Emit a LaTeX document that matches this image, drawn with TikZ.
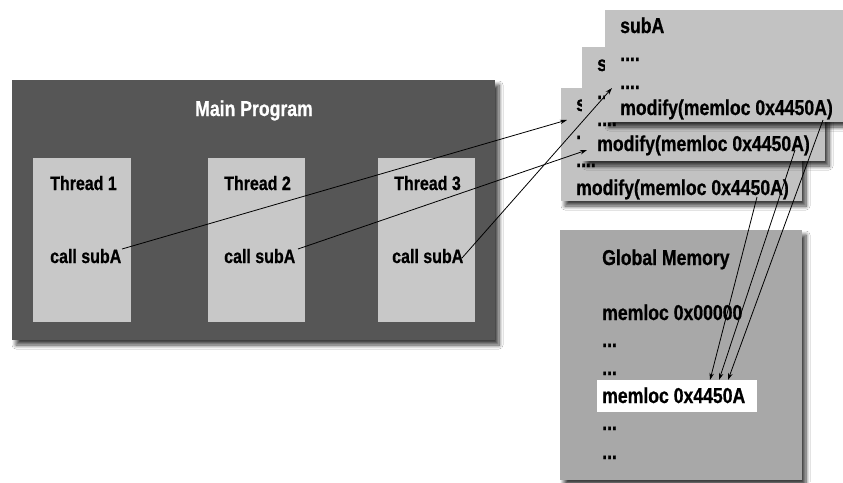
\documentclass[tikz,border=0pt]{standalone}
\usepackage{fontspec}
\newfontfamily\nb[FakeStretch=0.82, BoldFeatures={FakeBold=0.7}]{Liberation Sans}
\usetikzlibrary{arrows.meta,shadows.blur}
\definecolor{mainfill}{HTML}{565656}
\definecolor{threadfill}{HTML}{C8C8C8}
\definecolor{subfill}{HTML}{C2C2C2}
\definecolor{memfill}{HTML}{A8A8A8}
\begin{document}
\begin{tikzpicture}[x=1pt,y=-1pt,
  panel/.style={inner sep=0, anchor=north west, outer sep=0},
  shade/.style={blur shadow={shadow xshift=4pt, shadow yshift=-5pt,
      shadow blur radius=4pt, shadow blur steps=8, shadow opacity=75}},
  lbl/.style={font=\nb\bfseries\fontsize{21.5}{24}\selectfont, inner sep=0, anchor=base west},
  tlbl/.style={font=\nb\bfseries\fontsize{19.5}{22}\selectfont, inner sep=0, anchor=base west},
  call/.style={-{Stealth[length=7pt,width=4.5pt]}, line width=0.8pt, black}]
\useasboundingbox (0,0) rectangle (843,482);
\fill[white] (0,0) rectangle (843,482);

% main program with its three threads
\node[panel, shade, fill=mainfill, minimum width=483, minimum height=260] (main) at (12,80) {};
\node[lbl, anchor=base, text=white] (maintitle) at (254,116) {Main Program};
\node[panel, fill=threadfill, minimum width=98, minimum height=164] (th1) at (33,158) {};
\node[panel, fill=threadfill, minimum width=97, minimum height=164] (th2) at (208,158) {};
\node[panel, fill=threadfill, minimum width=97, minimum height=164] (th3) at (378,158) {};
\node[tlbl] (th1t) at (50,190) {Thread 1};
\node[tlbl] (th2t) at (224,190) {Thread 2};
\node[tlbl] (th3t) at (394,190) {Thread 3};
\node[tlbl] (c1) at (50,263) {call subA};
\node[tlbl] (c2) at (224,263) {call subA};
\node[tlbl] (c3) at (392,263) {call subA};

% three stacked copies of subA
\node[panel, shade, fill=subfill, minimum width=241, minimum height=113] (sc) at (561,88) {};
\node[lbl] (scname) at (576,111) {subA};
\node[lbl] (scd1) at (576,139) {....};
\node[lbl] (scd2) at (576,167) {....};
\node[lbl] (scmod) at (576,195) {modify(memloc 0x4450A)};

\node[panel, shade, fill=subfill, minimum width=243, minimum height=114] (sb) at (582,47) {};
\node[lbl] (sbname) at (597,71) {subA};
\node[lbl] (sbd1) at (597,99) {....};
\node[lbl] (sbd2) at (597,126) {....};
\node[lbl] (sbmod) at (597,151) {modify(memloc 0x4450A)};

\node[panel, shade, fill=subfill, minimum width=245, minimum height=112] (sa) at (605,10) {};
\node[lbl] (saname) at (620,33) {subA};
\node[lbl] (sad1) at (620,61) {....};
\node[lbl] (sad2) at (620,89) {....};
\node[lbl] (samod) at (620,115) {modify(memloc 0x4450A)};

% global memory
\node[panel, shade, fill=memfill, minimum width=242, minimum height=250] (mem) at (560,230) {};
\node[lbl] (memt) at (602,265) {Global Memory};
\node[lbl] (m0) at (602,320) {memloc 0x00000};
\node[lbl] (md1) at (602,347) {...};
\node[lbl] (md2) at (602,375) {...};
\node[panel, fill=white, minimum width=160, minimum height=32] (hl) at (597,380) {};
\node[lbl] (mx) at (602,403) {memloc 0x4450A};
\node[lbl] (md3) at (602,430) {...};
\node[lbl] (md4) at (602,459) {...};

% connector ends
\coordinate (c1s) at (122,249);
\coordinate (c2s) at (298,249);
\coordinate (c3s) at (462,258);
\coordinate (scin) at (567,120);
\coordinate (sbin) at (587,150);
\coordinate (sain) at (612,88);
\coordinate (scout) at (757,197);
\coordinate (sbout) at (795,150);
\coordinate (saout) at (823,120);
\coordinate (hlc) at (710,380);
\coordinate (hlb) at (719,380);
\coordinate (hla) at (728,380);

% calls from the threads
\draw[call] (c1s) -- (scin);
\draw[call] (c2s) -- (sbin);
\draw[call] (c3s) -- (sain);
% writes into memory
\draw[call] (scout) -- (hlc);
\draw[call] (sbout) -- (hlb);
\draw[call] (saout) -- (hla);
\end{tikzpicture}
\end{document}
